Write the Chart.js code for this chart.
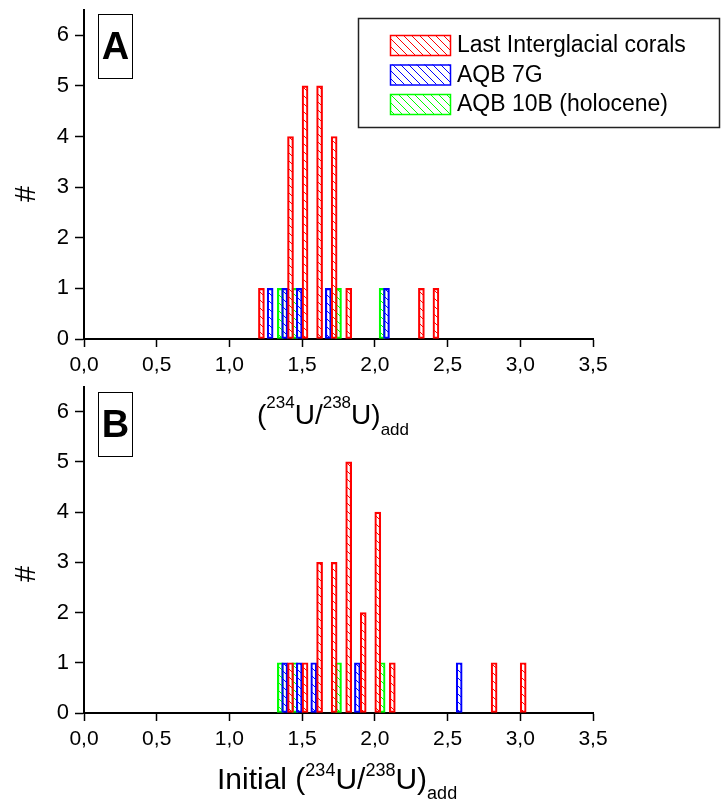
<!DOCTYPE html>
<html>
<head>
<meta charset="utf-8">
<script src="https://cdn.jsdelivr.net/npm/chart.js@4.4.1/dist/chart.umd.min.js"></script>
<style>
  body { margin: 0; background: #fff; font-family: "Liberation Sans", Arial, sans-serif; }
  #wrap { position: relative; width: 725px; height: 800px; overflow: hidden; background: #fff; }
  canvas { position: absolute; left: 0; }
  #chartA { top: 0; }
  #chartB { top: 380px; }
  .tag { position: absolute; left: 98px; width: 35px; height: 65px; box-sizing: border-box;
         border: 1px solid #000; font-weight: bold; font-size: 38px; text-align: center; line-height: 63px; }
  .ytitle { position: absolute; left: 10px; width: 30px; height: 30px; font-size: 29px; line-height: 30px;
            text-align: center; transform: rotate(-90deg); }
  .xtitle { position: absolute; white-space: nowrap; color: #000; }
  .sup { position: relative; }
  .sub { position: relative; }
</style>
</head>
<body>
<div id="wrap">
  <canvas id="chartA" width="725" height="380"></canvas>
  <canvas id="chartB" width="725" height="420"></canvas>
  <div class="tag" style="top:14px">A</div>
  <div class="tag" style="top:392px">B</div>
  <div class="ytitle" style="top:179px">#</div>
  <div class="ytitle" style="top:559px">#</div>
  <div class="xtitle" style="left:257px; top:400px; font-size:28px; line-height:30px;">(<span class="sup" style="font-size:17px; top:-16px">234</span>U/<span class="sup" style="font-size:17px; top:-16px">238</span>U)<span class="sub" style="font-size:17px; top:11px">add</span></div>
  <div class="xtitle" style="left:217px; top:762px; font-size:30px; line-height:34px;">Initial (<span class="sup" style="font-size:18px; top:-13px">234</span>U/<span class="sup" style="font-size:18px; top:-13px">238</span>U)<span class="sub" style="font-size:18px; top:10px">add</span></div>
</div>
<script>
// panel A: (234U/238U)add
const labelRed = "Last Interglacial corals";
const labelBlue = "AQB 7G";
const labelGreen = "AQB 10B (holocene)";

const xA_red = [1.22, 1.42, 1.52, 1.62, 1.72, 1.82, 2.32, 2.42];
const nA_red = [1, 4, 5, 5, 4, 1, 1, 1];
const xA_blue = [1.28, 1.38, 1.48, 1.68, 2.08];
const nA_blue = [1, 1, 1, 1, 1];
const xA_green = [1.35, 1.45, 1.75, 2.05];
const nA_green = [1, 1, 1, 1];

// panel B: initial (234U/238U)add
const xB_red = [1.42, 1.52, 1.62, 1.72, 1.82, 1.92, 2.02, 2.12, 2.82, 3.02];
const nB_red = [1, 1, 3, 3, 5, 2, 4, 1, 1, 1];
const xB_blue = [1.38, 1.48, 1.58, 1.88, 2.58];
const nB_blue = [1, 1, 1, 1, 1];
const xB_green = [1.35, 1.45, 1.75, 2.05];
const nB_green = [1, 1, 1, 1];

const FONT = "'Liberation Sans', Arial, sans-serif";

function hatch(color) {
  const s = 8;
  const c = document.createElement("canvas");
  c.width = s; c.height = s;
  const g = c.getContext("2d");
  g.strokeStyle = color;
  g.lineWidth = 1;
  g.beginPath();
  g.moveTo(0, 0); g.lineTo(s, s);
  g.moveTo(-1, s - 1); g.lineTo(1, s + 1);
  g.moveTo(s - 1, -1); g.lineTo(s + 1, 1);
  g.stroke();
  return g.createPattern(c, "repeat");
}

function series(label, xs, ns, color) {
  return {
    label: label,
    data: xs.map((x, i) => ({ x: x, y: ns[i] })),
    backgroundColor: hatch(color),
    borderColor: color,
    borderWidth: 1.5,
    borderSkipped: false,
    barThickness: 6,
    grouped: false
  };
}

const isStep = (v, step) => Math.abs(v / step - Math.round(v / step)) < 1e-9;

// short minor ticks (Chart.js only draws the major ones here)
const minorTicks = {
  id: "minorTicks",
  afterDraw(chart) {
    const ctx = chart.ctx;
    const xs = chart.scales.x, ys = chart.scales.y;
    ctx.save();
    ctx.strokeStyle = "#000";
    ctx.lineWidth = 1.5;
    ctx.beginPath();
    xs.ticks.forEach(t => {
      if (!isStep(t.value, 0.5)) {
        const px = Math.round(xs.getPixelForValue(t.value));
        ctx.moveTo(px, xs.top); ctx.lineTo(px, xs.top + 5);
      }
    });
    ys.ticks.forEach(t => {
      if (!isStep(t.value, 1)) {
        const py = Math.round(ys.getPixelForValue(t.value));
        ctx.moveTo(ys.right, py); ctx.lineTo(ys.right - 5, py);
      }
    });
    ctx.stroke();
    ctx.restore();
  }
};

const legendBox = {
  id: "legendBox",
  afterDraw(chart, args, opts) {
    if (!opts.show) return;
    const ctx = chart.ctx;
    ctx.save();
    ctx.strokeStyle = "#222";
    ctx.lineWidth = 1.5;
    ctx.strokeRect(358.5, 18.5, 361, 109);
    ctx.font = "23px " + FONT;
    ctx.textBaseline = "middle";
    chart.data.datasets.forEach((ds, i) => {
      const y = 35 + i * 29.5;
      ctx.fillStyle = ds.backgroundColor;
      ctx.fillRect(390, y, 60, 20);
      ctx.strokeStyle = ds.borderColor;
      ctx.lineWidth = 1.5;
      ctx.strokeRect(390.5, y + 0.5, 60, 20);
      ctx.fillStyle = "#000";
      ctx.fillText(ds.label, 457, y + 11);
    });
    ctx.restore();
  }
};

function makeChart(id, datasets, padTop, xHeight, showLegend) {
  return new Chart(document.getElementById(id), {
    type: "bar",
    data: { datasets: datasets },
    options: {
      responsive: false,
      animation: false,
      layout: { padding: { top: padTop, right: 132, left: 0, bottom: 0 } },
      plugins: {
        legend: { display: false },
        tooltip: { enabled: false },
        legendBox: { show: showLegend }
      },
      scales: {
        x: {
          type: "linear",
          min: 0,
          max: 3.5,
          offset: false,
          afterFit: s => { s.height = xHeight; s.paddingLeft = 0; s.paddingRight = 0; },
          grid: { offset: false, drawOnChartArea: false, tickLength: 8, tickColor: "#000", tickWidth: 1.5 },
          border: { display: true, color: "#000", width: 2 },
          ticks: {
            stepSize: 0.25,
            autoSkip: false,
            maxRotation: 0,
            color: "#000",
            padding: 6,
            font: { family: FONT, size: 21 },
            callback: v => isStep(v, 0.5) ? v.toFixed(1).replace(".", ",") : null
          }
        },
        y: {
          min: 0,
          max: 6.5,
          afterFit: s => { s.width = 84; s.paddingTop = 0; s.paddingBottom = 0; },
          grid: { drawOnChartArea: false, tickLength: 9, tickColor: "#000", tickWidth: 1.5 },
          border: { display: true, color: "#000", width: 2 },
          ticks: {
            stepSize: 0.5,
            autoSkip: false,
            color: "#000",
            padding: 6,
            font: { family: FONT, size: 22 },
            callback: v => isStep(v, 1) ? String(v) : null
          }
        }
      }
    },
    plugins: [minorTicks, legendBox]
  });
}

makeChart("chartA", [
  series(labelRed, xA_red, nA_red, "#ff0000"),
  series(labelBlue, xA_blue, nA_blue, "#0000ff"),
  series(labelGreen, xA_green, nA_green, "#00ff00")
], 10, 41, true);

makeChart("chartB", [
  series(labelRed, xB_red, nB_red, "#ff0000"),
  series(labelBlue, xB_blue, nB_blue, "#0000ff"),
  series(labelGreen, xB_green, nB_green, "#00ff00")
], 6.5, 87, false);
</script>
</body>
</html>
